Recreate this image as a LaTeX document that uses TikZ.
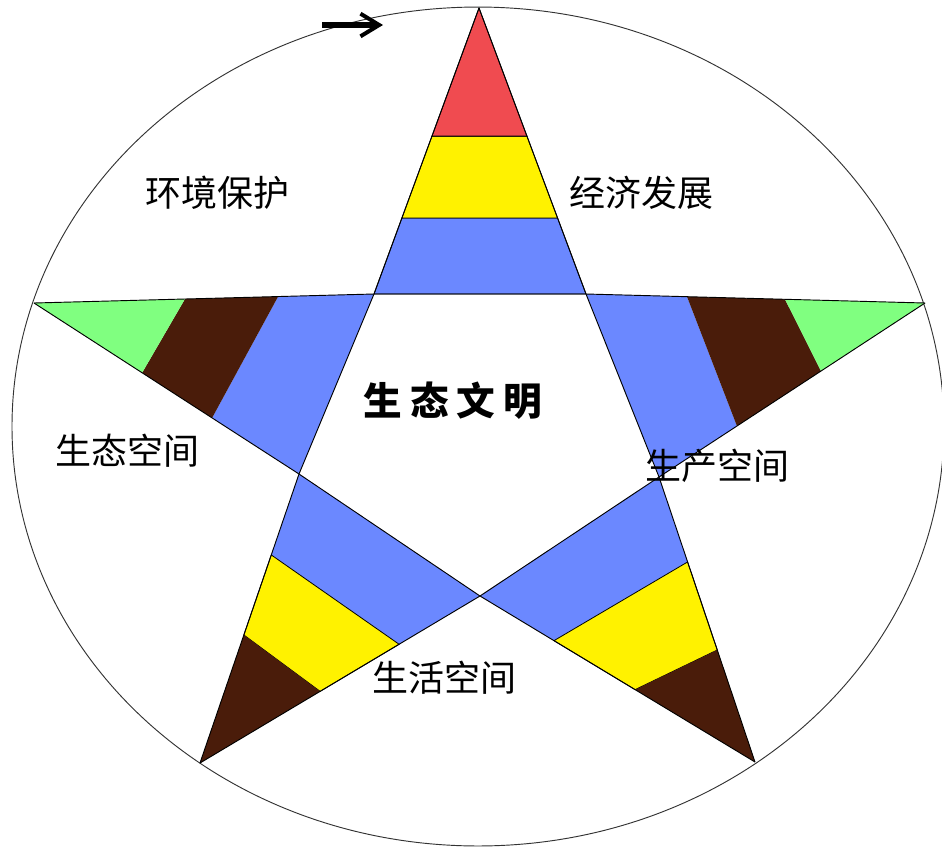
\documentclass[tikz,border=0pt]{standalone}
\usepackage{fontspec}
\newfontfamily\cjk{Noto Sans CJK SC}
\usetikzlibrary{calc,arrows.meta}
\definecolor{tipred}{RGB}{240,75,80}
\definecolor{bandyellow}{RGB}{255,242,0}
\definecolor{bandblue}{RGB}{107,136,255}
\definecolor{bandbrown}{RGB}{74,28,10}
\definecolor{bandgreen}{RGB}{128,255,128}
\tikzset{
  area/.style={font=\cjk\fontsize{27}{30}\selectfont, inner sep=0pt},
  edge/.style={draw=black, line width=0.7pt, line join=round},
  topband/.style={draw=black, line width=0.6pt}
}
\begin{document}
\begin{tikzpicture}[x=0.75pt, y=-0.75pt]
      \useasboundingbox (0,0) rectangle (942,847);
      \draw[line width=0.7pt, black!80] (478,426.5) ellipse [x radius=349.5pt, y radius=314.6pt];

      % star points
      \coordinate (T) at (479,8);
      \coordinate (L) at (34,303);
      \coordinate (R) at (925,303);
      \coordinate (BL) at (200,763);
      \coordinate (BR) at (755,762);
      % inner pentagon
      \coordinate (A) at (374,294);
      \coordinate (B) at (586,294);
      \coordinate (C) at (659,477);
      \coordinate (D) at (480,596);
      \coordinate (E) at (299,474);

      % top arm
      \fill[bandblue, topband] (A) -- (B) -- ($(B)!0.266!(T)$) -- ($(A)!0.266!(T)$) -- cycle;
      \fill[bandyellow, topband] ($(A)!0.266!(T)$) -- ($(B)!0.266!(T)$) -- ($(B)!0.552!(T)$) -- ($(A)!0.552!(T)$) -- cycle;
      \fill[tipred, topband] ($(A)!0.552!(T)$) -- ($(B)!0.552!(T)$) -- (T) -- cycle;
      % left arm
      \fill[bandblue] (A) -- ($(A)!0.282!(L)$) -- ($(E)!0.328!(L)$) -- (E) -- cycle;
      \fill[bandbrown] ($(A)!0.282!(L)$) -- ($(A)!0.556!(L)$) -- ($(E)!0.592!(L)$) -- ($(E)!0.328!(L)$) -- cycle;
      \fill[bandgreen] ($(A)!0.556!(L)$) -- (L) -- ($(E)!0.592!(L)$) -- cycle;
      % right arm
      \fill[bandblue] (B) -- ($(B)!0.298!(R)$) -- ($(C)!0.293!(R)$) -- (C) -- cycle;
      \fill[bandbrown] ($(B)!0.298!(R)$) -- ($(B)!0.587!(R)$) -- ($(C)!0.609!(R)$) -- ($(C)!0.293!(R)$) -- cycle;
      \fill[bandgreen] ($(B)!0.587!(R)$) -- (R) -- ($(C)!0.609!(R)$) -- cycle;
      % bottom left arm
      \fill[bandblue] (E) -- ($(E)!0.280!(BL)$) -- ($(D)!0.289!(BL)$) -- (D) -- cycle;
      \fill[bandyellow, topband] ($(E)!0.280!(BL)$) -- ($(E)!0.557!(BL)$) -- ($(D)!0.571!(BL)$) -- ($(D)!0.289!(BL)$) -- cycle;
      \fill[bandbrown] ($(E)!0.557!(BL)$) -- (BL) -- ($(D)!0.571!(BL)$) -- cycle;
      % bottom right arm
      \fill[bandblue] (C) -- ($(C)!0.298!(BR)$) -- ($(D)!0.269!(BR)$) -- (D) -- cycle;
      \fill[bandyellow, topband] ($(C)!0.298!(BR)$) -- ($(C)!0.607!(BR)$) -- ($(D)!0.564!(BR)$) -- ($(D)!0.269!(BR)$) -- cycle;
      \fill[bandbrown] ($(C)!0.607!(BR)$) -- (BR) -- ($(D)!0.564!(BR)$) -- cycle;

      % pentagram lines
      \draw[edge] (T) -- (A) -- (E) -- (BL);
      \draw[edge] (BL) -- (D) -- (C) -- (R);
      \draw[edge] (R) -- (B) -- (A) -- (L);
      \draw[edge] (L) -- (E) -- (D) -- (BR);
      \draw[edge] (BR) -- (C) -- (B) -- (T);

      % arrow on the ellipse
      \coordinate (arrowtail) at (322,25);
      \coordinate (arrowtip) at (383,25);
      \draw[black, line width=4.5pt, -{Straight Barb[length=14pt, width=17pt, line width=3pt]}] (arrowtail) -- (arrowtip);

      \node[area] (protect) at (217,193) {环境保护};
      \node[area] (economy) at (641,193) {经济发展};
      \node[area] (ecospace) at (127,451) {生态空间};
      \node[area] (prodspace) at (717,466) {生产空间};
      \node[area] (livespace) at (444,678) {生活空间};
      \node[area, font=\cjk\bfseries\fontsize{29}{30}\selectfont] (core) at (453,401) {生\hspace{6pt}态\hspace{6pt}文\hspace{6pt}明};
    \end{tikzpicture}
\end{document}
